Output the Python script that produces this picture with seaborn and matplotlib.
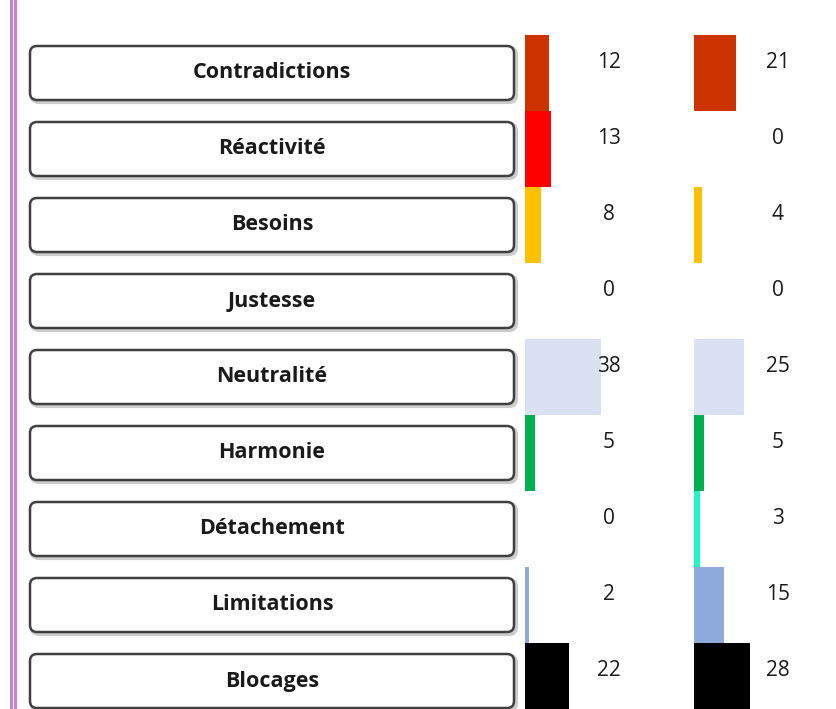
import pandas as pd
import seaborn as sns
import matplotlib.pyplot as plt
from matplotlib.patches import FancyBboxPatch

# data
categories = ['Contradictions', 'Réactivité', 'Besoins', 'Justesse', 'Neutralité',
              'Harmonie', 'Détachement', 'Limitations', 'Blocages']
serie_1 = [12, 13, 8, 0, 38, 5, 0, 2, 22]
serie_2 = [21, 0, 4, 0, 25, 5, 3, 15, 28]
colors = ['#CC3300', '#FF0000', '#FFC000', '#A6A6A6', '#D9E1F2',
          '#00B050', '#22F5C4', '#8EA9DB', '#000000']

df = pd.DataFrame({'cat': categories, 's1': serie_1, 's2': serie_2})

W, H = 837, 709
fig = plt.figure(figsize=(W / 100, H / 100), dpi=100)
fig.patch.set_facecolor('white')

top, row_h = 35, 76
n = len(categories)
band_bottom = top + row_h * n

# background axes in pixel coords (buttons, frame line)
bg = fig.add_axes([0, 0, 1, 1])
bg.set_xlim(0, W)
bg.set_ylim(H, 0)
bg.axis('off')
bg.plot([11, 11], [0, H], color='#C484CC', lw=2.2)
bg.plot([15, 15], [0, H], color='#C484CC', lw=2.2)

for i, name in enumerate(categories):
    y0 = top + row_h * i + 11
    shadow = FancyBboxPatch((32, y0 + 2), 484, 54, boxstyle='round,pad=0,rounding_size=7',
                            fc='none', ec='#9a9a9a', lw=3, alpha=0.5)
    bg.add_patch(shadow)
    btn = FancyBboxPatch((30, y0), 484, 54, boxstyle='round,pad=0,rounding_size=7',
                         fc='white', ec='#404040', lw=1.8)
    bg.add_patch(btn)
    bg.text(272, y0 + 27, name, ha='center', va='center', fontsize=15.5,
            fontweight='bold', family=['Open Sans', 'DejaVu Sans'], color='#1a1a1a')


def bar_axes(x0, col):
    ax = fig.add_axes([x0 / W, (H - band_bottom) / H, 120 / W, row_h * n / H])
    sns.barplot(data=df, x=col, y='cat', hue='cat', palette=colors, orient='h',
                width=1.0, legend=False, ax=ax, saturation=1)
    ax.set_xlim(0, 60)
    ax.set_ylim(n - 0.5, -0.5)
    ax.axis('off')
    ax.patch.set_alpha(0)
    return ax


ax1 = bar_axes(525, 's1')
ax2 = bar_axes(694, 's2')

for ax, vals in [(ax1, serie_1), (ax2, serie_2)]:
    for i, v in enumerate(vals):
        ax.text(42, i - 0.14, str(v), ha='center', va='center', fontsize=15,
                family=['Open Sans', 'DejaVu Sans'], color='#1a1a1a')

fig.savefig('out.png', dpi=100)
